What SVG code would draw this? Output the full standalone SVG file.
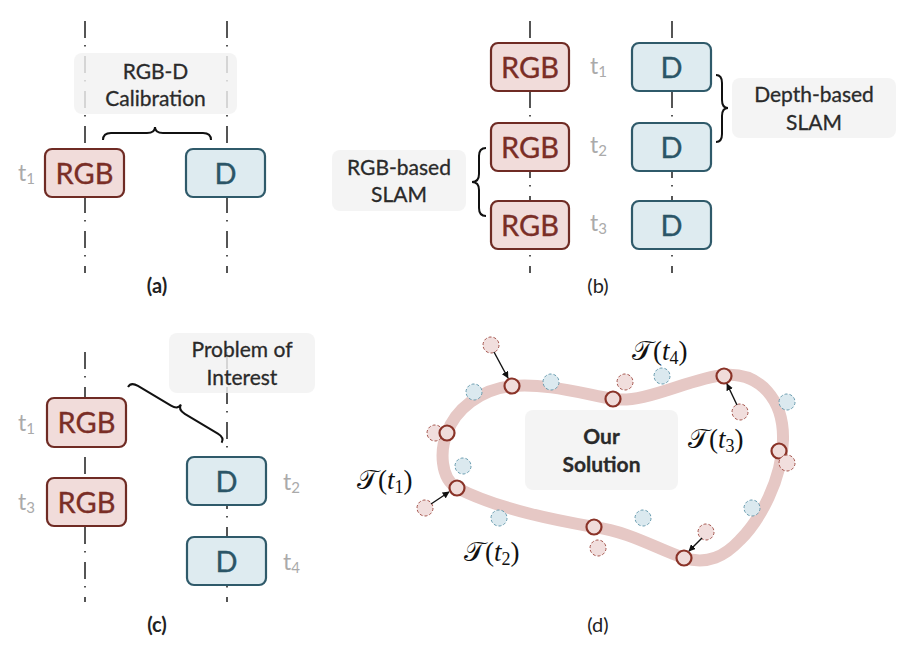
<svg xmlns="http://www.w3.org/2000/svg" width="916" height="656" viewBox="0 0 916 656">
<defs>
<style>
.tl{stroke:#555;stroke-width:2;fill:none;stroke-dasharray:17 7 1.5 9.5}
.rgb rect{fill:#f1dcda;stroke:#6f2b24;stroke-width:2.2}
.rgb text{fill:#7a2e26;stroke:#7a2e26;stroke-width:0.35}
.dep rect{fill:#deebf0;stroke:#2f5a6a;stroke-width:2.2}
.dep text{fill:#2b5567;stroke:#2b5567;stroke-width:0.35}
.nt{font-family:Lato,"Liberation Sans",sans-serif;font-size:29px;text-anchor:middle}
.lbl rect{fill:#f2f2f2;fill-opacity:0.82}
.lbl text{font-family:Lato,"Liberation Sans",sans-serif;font-size:21px;fill:#2a2a2a;stroke:#2a2a2a;stroke-width:0.3;text-anchor:middle}
.tk{font-family:Lato,"Liberation Sans",sans-serif;font-size:23px;fill:#aaa}
.sub{font-size:15px}
.cap{font-family:Lato,"Liberation Sans",sans-serif;font-size:20px;fill:#222;text-anchor:middle}
.brace{fill:none;stroke:#111;stroke-width:2}
.band{fill:none;stroke:#e6c8c5;stroke-width:12}
.sc{fill:#f0dcda;stroke:#8a3328;stroke-width:2.2}
.dp{fill:#f1dedd;stroke:#a5564e;stroke-width:1;stroke-dasharray:3 2}
.db{fill:#dbe9ef;stroke:#6a9db0;stroke-width:1;stroke-dasharray:3 2}
.arr{stroke:#111;stroke-width:1.4;fill:none;marker-end:url(#ah)}
.math{font-family:"Liberation Serif","DejaVu Serif",serif;font-size:27px;fill:#111}
</style>
<marker id="ah" viewBox="0 0 10 10" refX="9" refY="5" markerWidth="7" markerHeight="7" markerUnits="userSpaceOnUse" orient="auto">
<path d="M0 0 L10 5 L0 10 Z" fill="#111"/>
</marker>
</defs>
<rect width="916" height="656" fill="#fff"/>

<g id="timelines">
<line class="tl" x1="85" y1="21" x2="85" y2="273"/>
<line class="tl" x1="227" y1="21" x2="227" y2="273"/>
<line class="tl" x1="530" y1="21" x2="530" y2="273"/>
<line class="tl" x1="672" y1="21" x2="672" y2="273"/>
<line class="tl" x1="85" y1="352" x2="85" y2="602"/>
<line class="tl" x1="227" y1="352" x2="227" y2="602"/>
</g>

<!-- Panel (a) -->
<g id="a-calib" class="lbl"><rect x="74" y="53" width="163" height="61" rx="8"/><text x="155.5" y="79">RGB-D</text><text x="155.5" y="106">Calibration</text></g>
<g id="a-rgb" class="rgb"><rect x="45" y="149" width="79" height="48" rx="7"/><text class="nt" x="84.5" y="183.5">RGB</text></g>
<g id="a-d" class="dep"><rect x="186" y="149" width="79" height="48" rx="7"/><text class="nt" x="225.5" y="183.5">D</text></g>
<text class="tk" x="18" y="181">t<tspan class="sub" dy="3">1</tspan></text>
<text class="cap" x="157" y="293" font-weight="bold">(a)</text>

<!-- Panel (b) -->
<g id="b-rgb1" class="rgb"><rect x="491" y="43" width="78" height="48" rx="7"/><text class="nt" x="530" y="77.5">RGB</text></g>
<g id="b-rgb2" class="rgb"><rect x="491" y="123" width="78" height="48" rx="7"/><text class="nt" x="530" y="157.5">RGB</text></g>
<g id="b-rgb3" class="rgb"><rect x="491" y="201" width="78" height="48" rx="7"/><text class="nt" x="530" y="235.5">RGB</text></g>
<g id="b-d1" class="dep"><rect x="632" y="43" width="79" height="48" rx="7"/><text class="nt" x="671.5" y="77.5">D</text></g>
<g id="b-d2" class="dep"><rect x="632" y="123" width="79" height="48" rx="7"/><text class="nt" x="671.5" y="157.5">D</text></g>
<g id="b-d3" class="dep"><rect x="632" y="201" width="79" height="48" rx="7"/><text class="nt" x="671.5" y="235.5">D</text></g>
<text class="tk" x="590" y="74">t<tspan class="sub" dy="3">1</tspan></text>
<text class="tk" x="590" y="153">t<tspan class="sub" dy="3">2</tspan></text>
<text class="tk" x="590" y="231">t<tspan class="sub" dy="3">3</tspan></text>
<g id="b-rgbslam" class="lbl"><rect x="332" y="150" width="134" height="61" rx="8"/><text x="399" y="175">RGB-based</text><text x="399" y="202">SLAM</text></g>
<g id="b-depslam" class="lbl"><rect x="732" y="78" width="164" height="60" rx="8"/><text x="814" y="102">Depth-based</text><text x="814" y="130">SLAM</text></g>
<text class="cap" x="598" y="293">(b)</text>

<!-- Panel (c) -->
<g id="c-rgb1" class="rgb"><rect x="47" y="398" width="79" height="49" rx="7"/><text class="nt" x="86.5" y="433">RGB</text></g>
<g id="c-rgb3" class="rgb"><rect x="47" y="478" width="79" height="48" rx="7"/><text class="nt" x="86.5" y="512.5">RGB</text></g>
<g id="c-d2" class="dep"><rect x="187" y="457" width="79" height="48" rx="7"/><text class="nt" x="226.5" y="491.5">D</text></g>
<g id="c-d4" class="dep"><rect x="187" y="537" width="79" height="48" rx="7"/><text class="nt" x="226.5" y="571.5">D</text></g>
<text class="tk" x="18" y="431">t<tspan class="sub" dy="3">1</tspan></text>
<text class="tk" x="18" y="510">t<tspan class="sub" dy="3">3</tspan></text>
<text class="tk" x="283" y="490">t<tspan class="sub" dy="3">2</tspan></text>
<text class="tk" x="283" y="570">t<tspan class="sub" dy="3">4</tspan></text>
<g id="c-problem" class="lbl"><rect x="169" y="333" width="146" height="60" rx="8"/><text x="242" y="357">Problem of</text><text x="242" y="385">Interest</text></g>
<text class="cap" x="157" y="632" font-weight="bold">(c)</text>

<!-- Panel (d) -->
<g id="d-trajectory">
<path class="band" d="M512 386 C545 383 580 393 613 399 C645 404 690 378 724 375 C760 372 784 400 783 440 C782 480 760 520 740 540 C725 556 708 565 684 558 C655 548 630 532 594 527 C560 521 500 510 457 488 C440 478 440 450 447 433 C455 410 480 389 512 386 Z"/>
</g>
<g id="d-samples">
<circle class="dp" cx="491" cy="345" r="8"/>
<circle class="dp" cx="625" cy="382" r="8"/>
<circle class="dp" cx="435" cy="433" r="8"/>
<circle class="dp" cx="425" cy="508" r="8"/>
<circle class="dp" cx="598" cy="548" r="8"/>
<circle class="dp" cx="740" cy="412" r="8"/>
<circle class="dp" cx="706" cy="532" r="8"/>
<circle class="db" cx="474" cy="392" r="8"/>
<circle class="db" cx="551" cy="382" r="8"/>
<circle class="db" cx="662" cy="376" r="8"/>
<circle class="db" cx="787" cy="402" r="8"/>
<circle class="db" cx="463" cy="466" r="8"/>
<circle class="db" cx="499" cy="518" r="8"/>
<circle class="db" cx="643" cy="518" r="8"/>
<circle class="db" cx="752" cy="508" r="8"/>
<circle class="sc" cx="512" cy="386" r="7.5"/>
<circle class="sc" cx="613" cy="399" r="7.5"/>
<circle class="sc" cx="724" cy="376" r="7.5"/>
<circle class="sc" cx="447" cy="433" r="7.5"/>
<circle class="sc" cx="779" cy="451" r="7.5"/>
<circle class="sc" cx="457" cy="488" r="7.5"/>
<circle class="sc" cx="594" cy="527" r="7.5"/>
<circle class="sc" cx="684" cy="558" r="7.5"/>
<circle class="dp" cx="787" cy="463" r="8"/>
</g>
<g id="d-solution" class="lbl"><rect x="525" y="410" width="153" height="80" rx="8"/><text x="601.5" y="444" font-weight="bold" font-size="22">Our</text><text x="601.5" y="472" font-weight="bold" font-size="22">Solution</text></g>
<text class="math" x="357" y="489">𝒯(<tspan font-style="italic">t</tspan><tspan font-size="18" dy="4">1</tspan><tspan dy="-4">)</tspan></text>
<text class="math" x="464" y="561">𝒯(<tspan font-style="italic">t</tspan><tspan font-size="18" dy="4">2</tspan><tspan dy="-4">)</tspan></text>
<text class="math" x="688" y="448">𝒯(<tspan font-style="italic">t</tspan><tspan font-size="18" dy="4">3</tspan><tspan dy="-4">)</tspan></text>
<text class="math" x="632" y="360">𝒯(<tspan font-style="italic">t</tspan><tspan font-size="18" dy="4">4</tspan><tspan dy="-4">)</tspan></text>
<text class="cap" x="598" y="632">(d)</text>

<g id="connectors">
<path class="brace" d="M103 140 Q103 133 111 133 L147 133 Q155 133 155 127 Q155 133 163 133 L203 133 Q211 133 211 140"/>
<path class="brace" d="M486 148 Q479 148 479 156 L479 174 Q479 182 472 182 Q479 182 479 190 L479 208 Q479 216 486 216"/>
<path class="brace" d="M716 75 Q722 75 722 83 L722 100 Q722 108 728 108 Q722 108 722 116 L722 134 Q722 142 716 142"/>
<path class="brace" transform="translate(128 387) rotate(30.8)" d="M0 0 Q0 -6 8 -6 L46.5 -6 Q54.5 -6 54.5 -12 Q54.5 -6 62.5 -6 L101 -6 Q109 -6 109 0"/>
<line class="arr" x1="494" y1="352" x2="508" y2="378"/>
<line class="arr" x1="431" y1="504" x2="449" y2="492"/>
<line class="arr" x1="737" y1="405" x2="727" y2="384"/>
<line class="arr" x1="702" y1="538" x2="689" y2="551"/>
</g>
</svg>
